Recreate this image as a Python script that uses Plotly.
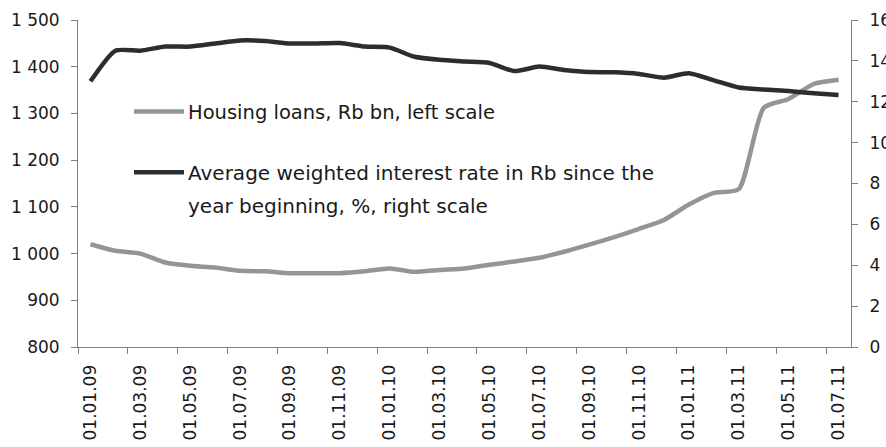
import plotly.graph_objects as go

months = [
    "01.01.09", "01.02.09", "01.03.09", "01.04.09", "01.05.09", "01.06.09",
    "01.07.09", "01.08.09", "01.09.09", "01.10.09", "01.11.09", "01.12.09",
    "01.01.10", "01.02.10", "01.03.10", "01.04.10", "01.05.10", "01.06.10",
    "01.07.10", "01.08.10", "01.09.10", "01.10.10", "01.11.10", "01.12.10",
    "01.01.11", "01.02.11", "01.03.11", "01.04.11", "01.05.11", "01.06.11",
    "01.07.11",
]

housing_loans = [
    1020, 1006, 1000, 981, 974, 970, 963, 962, 958, 958, 958, 962,
    968, 961, 965, 968, 976, 983, 991, 1004, 1019, 1035, 1053, 1072,
    1105, 1130, 1138, 1312, 1331, 1363, 1372,
]

interest_rate = [
    13.0, 14.5, 14.5, 14.7, 14.7, 14.85, 15.0, 14.97, 14.85, 14.85, 14.87, 14.7,
    14.65, 14.2, 14.05, 13.97, 13.9, 13.5, 13.72, 13.55, 13.45, 13.44, 13.36, 13.18,
    13.4, 13.05, 12.7, 12.6, 12.52, 12.42, 12.33,
]

legend_loans = "Housing loans, Rb bn, left scale"
legend_rate_1 = "Average weighted interest rate in Rb since the"
legend_rate_2 = "year beginning, %, right scale"

GRAY = "#939598"
DARK = "#2b2e31"
AXIS = "#7f7f7f"
TEXT = "#1a1a1a"
FONT = "DejaVu Sans"

x_idx = list(range(len(months)))

fig = go.Figure()
fig.add_trace(go.Scatter(
    x=x_idx, y=housing_loans, mode="lines", name=legend_loans,
    line=dict(color=GRAY, width=4.5, shape="spline", smoothing=0.6),
    yaxis="y", showlegend=False,
))
fig.add_trace(go.Scatter(
    x=x_idx, y=interest_rate, mode="lines",
    name=legend_rate_1 + " " + legend_rate_2,
    line=dict(color=DARK, width=4.5, shape="spline", smoothing=0.6),
    yaxis="y2", showlegend=False,
))

W, H = 886, 447
L, R, T, B = 78, 35, 20, 100
pw = W - L - R
ph = H - T - B


def px_x(p):
    return (p - L) / pw


def px_y(p):
    return (H - B - p) / ph


# manual legend
legend_rows = [
    (GRAY, 111.5, legend_loans, 19.5),
    (DARK, 172.3, legend_rate_1, 20),
]
for color, yy, txt, fs in legend_rows:
    fig.add_shape(type="line", xref="paper", yref="paper",
                  x0=px_x(134), x1=px_x(184), y0=px_y(yy), y1=px_y(yy),
                  line=dict(color=color, width=4.5))
    fig.add_annotation(xref="paper", yref="paper", x=px_x(186), y=px_y(yy + 1),
                       text=txt, showarrow=False, xanchor="left", yanchor="middle",
                       font=dict(family=FONT, size=fs, color=TEXT))
fig.add_annotation(xref="paper", yref="paper", x=px_x(186), y=px_y(206),
                   text=legend_rate_2, showarrow=False, xanchor="left", yanchor="middle",
                   font=dict(family=FONT, size=20, color=TEXT))

fig.update_layout(
    template="none",
    width=W, height=H,
    margin=dict(l=L, r=R, t=T, b=B, pad=0, autoexpand=False),
    paper_bgcolor="white", plot_bgcolor="white",
    separators=". ",
    font=dict(family=FONT, size=17, color=TEXT),
    showlegend=False,
    xaxis=dict(
        automargin=False,
        range=[-0.5, len(months) - 0.5],
        tickmode="array",
        tickvals=x_idx[::2],
        ticktext=months[::2],
        tickangle=-90,
        ticks="",
        ticklabelstandoff=10,
        ticklabeloverflow="allow",
        showgrid=False, zeroline=False,
        showline=True, linecolor=AXIS, linewidth=1,
        minor=dict(tickmode="linear", tick0=-0.5, dtick=2, ticks="outside",
                   ticklen=6, tickcolor=AXIS, tickwidth=1, showgrid=False),
        tickfont=dict(family=FONT, size=17, color=TEXT),
    ),
    yaxis=dict(
        automargin=False,
        range=[800, 1500], dtick=100, tick0=800,
        ticks="outside", ticklen=6, tickcolor=AXIS, tickwidth=1,
        separatethousands=True,
        showgrid=False, zeroline=False,
        showline=True, linecolor=AXIS, linewidth=1,
        ticklabelstandoff=8,
        tickfont=dict(family=FONT, size=17, color=TEXT),
    ),
    yaxis2=dict(
        automargin=False,
        range=[0, 16], dtick=2, tick0=0,
        overlaying="y", side="right",
        ticks="outside", ticklen=6, tickcolor=AXIS, tickwidth=1,
        showgrid=False, zeroline=False,
        showline=True, linecolor=AXIS, linewidth=1,
        ticklabelstandoff=8,
        ticklabeloverflow="allow",
        tickfont=dict(family=FONT, size=17, color=TEXT),
    ),
)

fig.write_html(
    "out.html",
    config={"displayModeBar": False},
    post_script="document.body.style.margin='0';document.body.style.overflow='hidden';",
)
